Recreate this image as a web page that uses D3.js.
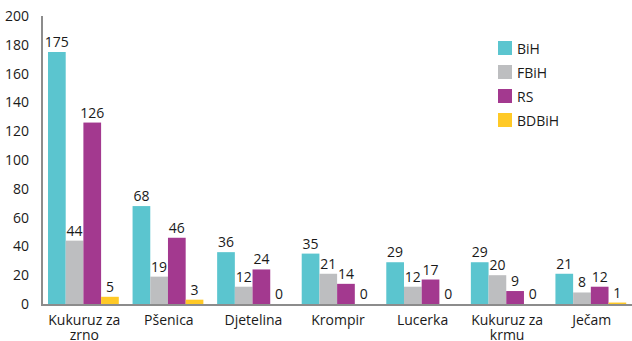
<!DOCTYPE html>
<html>
<head>
<meta charset="utf-8">
<script src="https://cdn.jsdelivr.net/npm/d3@7"></script>
<style>
  html, body { margin: 0; padding: 0; background: #fff; }
  svg { display: block; font-family: "Open Sans", "Noto Sans", sans-serif; }
</style>
</head>
<body>
<svg id="chart" width="632" height="341"></svg>
<script>
// Crops by region (hectares, thousands)
const categories = ["Kukuruz za zrno", "Pšenica", "Djetelina", "Krompir", "Lucerka", "Kukuruz za krmu", "Ječam"];
const seriesNames = ["BiH", "FBiH", "RS", "BDBiH"];
const bih   = [175, 68, 36, 35, 29, 29, 21];
const fbih  = [44, 19, 12, 21, 12, 20, 8];
const rs    = [126, 46, 24, 14, 17, 9, 12];
const bdbih = [5, 3, 0, 0, 0, 0, 1];
const yTicks = [0, 20, 40, 60, 80, 100, 120, 140, 160, 180, 200];
const colors = ["#5bc5cf", "#bdbec0", "#a3398f", "#ffc926"];

const seriesValues = [bih, fbih, rs, bdbih];
const fontSize = 14;

const svg = d3.select("#chart");
const plotLeft = 42, plotRight = 634, plotTop = 16, plotBottom = 304;

const x0 = d3.scaleBand().domain(categories).range([plotLeft, plotRight]);
const x1 = d3.scaleBand().domain(seriesNames).range([6, 6 + 70.8]);
const y = d3.scaleLinear().domain([0, 200]).range([plotBottom, plotTop]);
const color = d3.scaleOrdinal().domain(seriesNames).range(colors);

// Y axis tick labels
const yAxis = svg.append("g")
  .attr("transform", `translate(${plotLeft},0)`)
  .call(d3.axisLeft(y).tickValues(yTicks).tickSize(0).tickPadding(13));
yAxis.select(".domain").remove();
yAxis.selectAll("text")
  .attr("font-size", fontSize)
  .attr("fill", "#1a1a1a")
  .attr("font-family", "Open Sans, Noto Sans, sans-serif");

// Bars
const groups = svg.append("g").selectAll("g")
  .data(categories)
  .join("g")
  .attr("transform", d => `translate(${x0(d)},0)`);

const cells = groups.selectAll("g")
  .data((c, i) => seriesNames.map((s, j) => ({ series: s, value: seriesValues[j][i] })))
  .join("g");

cells.append("rect")
  .attr("x", d => x1(d.series))
  .attr("width", x1.bandwidth())
  .attr("y", d => y(d.value))
  .attr("height", d => y(0) - y(d.value))
  .attr("fill", d => color(d.series));

cells.append("text")
  .attr("x", d => x1(d.series) + x1.bandwidth() / 2)
  .attr("y", d => y(d.value) - 5)
  .attr("text-anchor", "middle")
  .attr("font-size", fontSize)
  .attr("fill", "#1a1a1a")
  .text(d => d.value);

// Axis lines
svg.append("line")
  .attr("x1", plotLeft).attr("x2", plotLeft)
  .attr("y1", plotTop).attr("y2", plotBottom + 1)
  .attr("stroke", "#8c8c8c").attr("stroke-width", 2);
svg.append("line")
  .attr("x1", plotLeft - 1).attr("x2", 632)
  .attr("y1", plotBottom + 1).attr("y2", plotBottom + 1)
  .attr("stroke", "#8c8c8c").attr("stroke-width", 2);

// Category labels, long names split over two lines
const labelLines = categories.flatMap(c => {
  const m = c.match(/^(Kukuruz za) (.+)$/);
  const parts = m ? [m[1], m[2]] : [c];
  return parts.map((text, line) => ({ cat: c, text, line }));
});
svg.append("g").selectAll("text")
  .data(labelLines)
  .join("text")
  .attr("x", d => x0(d.cat) + x0.bandwidth() / 2)
  .attr("y", d => 325 + d.line * 14.5)
  .attr("text-anchor", "middle")
  .attr("font-size", fontSize)
  .attr("fill", "#1a1a1a")
  .text(d => d.text);

// Legend
const legend = svg.append("g").selectAll("g")
  .data(seriesNames)
  .join("g")
  .attr("transform", (d, i) => `translate(498,${41 + i * 24})`);
legend.append("rect")
  .attr("width", 14).attr("height", 14)
  .attr("fill", d => color(d));
legend.append("text")
  .attr("x", 19).attr("y", 12.5)
  .attr("font-size", fontSize)
  .attr("fill", "#1a1a1a")
  .text(d => d);
</script>
</body>
</html>
